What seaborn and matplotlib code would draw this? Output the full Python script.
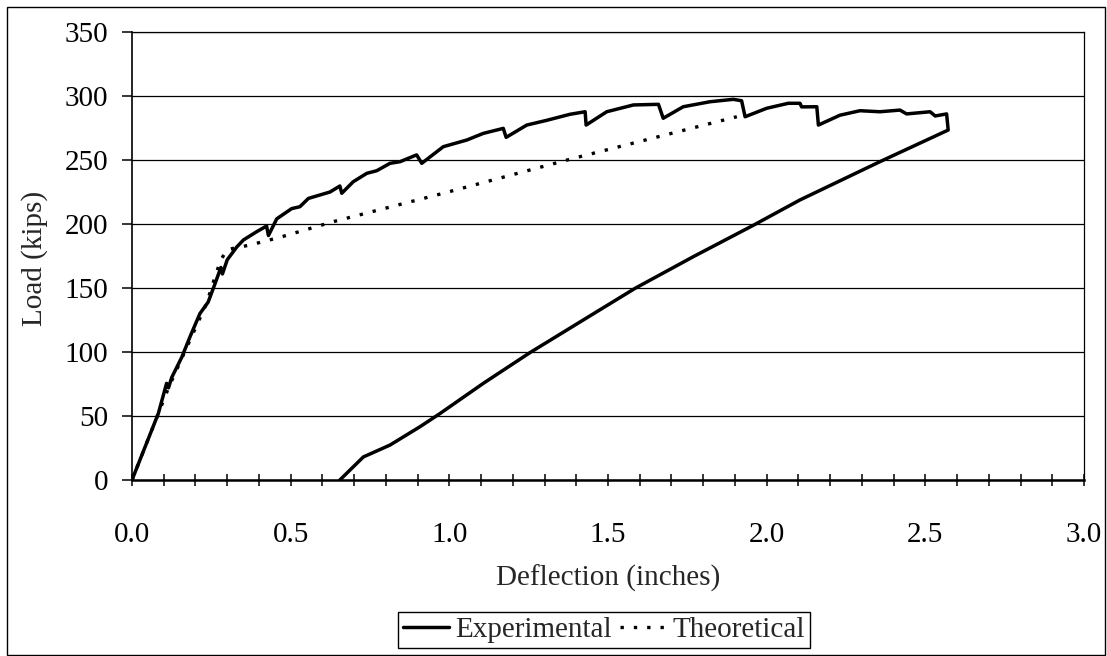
import numpy as np
import pandas as pd
import matplotlib
matplotlib.use("Agg")
import matplotlib.pyplot as plt
from matplotlib.patches import Rectangle
from matplotlib.ticker import MultipleLocator
import seaborn as sns

# Load-deflection data
exp_defl = [0.0, 0.083, 0.109, 0.115, 0.125, 0.157, 0.183, 0.214, 0.240, 0.262,
            0.280, 0.285, 0.300, 0.330, 0.351, 0.393, 0.424, 0.430, 0.456, 0.503,
            0.529, 0.556, 0.624, 0.655, 0.661, 0.697, 0.740, 0.771, 0.813, 0.845,
            0.897, 0.913, 0.981, 1.055, 1.107, 1.170, 1.179, 1.244, 1.307, 1.380,
            1.428, 1.431, 1.496, 1.580, 1.659, 1.674, 1.737, 1.821, 1.895, 1.921,
            1.932, 2.000, 2.068, 2.105, 2.110, 2.158, 2.163, 2.231, 2.294, 2.357,
            2.420, 2.441, 2.515, 2.531, 2.567, 2.572,
            2.357, 2.105, 1.958, 1.769, 1.585, 1.422, 1.254, 1.107, 0.971, 0.908,
            0.813, 0.729, 0.655]
exp_load = [0.0, 52.0, 75.5, 72.0, 80.0, 96.0, 112.0, 130.0, 139.0, 153.6,
            166.0, 161.0, 172.0, 182.0, 187.5, 194.0, 198.4, 191.0, 204.0, 212.0,
            213.5, 220.0, 225.0, 229.7, 224.0, 233.0, 239.6, 241.6, 247.4, 248.7,
            254.0, 247.4, 260.4, 265.6, 270.8, 274.7, 267.7, 277.3, 281.0, 285.7,
            287.7, 277.3, 287.7, 293.0, 293.5, 282.6, 291.6, 295.5, 297.4, 296.3,
            283.8, 290.4, 294.3, 294.3, 291.5, 291.6, 277.3, 285.0, 288.5, 287.7,
            289.0, 286.0, 287.7, 284.4, 286.0, 273.4,
            248.7, 218.8, 199.0, 174.5, 149.7, 125.0, 99.5, 75.5, 52.0, 41.7,
            27.3, 18.0, 0.0]

theo_defl = [0.0, 0.115, 0.235, 0.262, 0.280, 0.300, 0.372, 0.466, 0.634, 0.981, 1.391, 1.906]
theo_load = [0.0, 72.0, 138.0, 159.0, 172.0, 180.0, 183.6, 189.6, 201.8, 224.0, 251.3, 283.8]

exp_df = pd.DataFrame({"Deflection": exp_defl, "Load": exp_load})
theo_df = pd.DataFrame({"Deflection": theo_defl, "Load": theo_load})

sns.set_theme(style="white")
plt.rcParams["font.family"] = ["Liberation Serif", "DejaVu Serif"]

fig = plt.figure(figsize=(11.07, 6.56), dpi=100)
ax = fig.add_axes([132 / 1107, 1 - 480 / 656, 952 / 1107, 448 / 656])

sns.lineplot(data=exp_df, x="Deflection", y="Load", sort=False, estimator=None,
             color="black", linewidth=2.5, ax=ax, label="Experimental")
sns.lineplot(data=theo_df, x="Deflection", y="Load", sort=False, estimator=None,
             color="black", linewidth=2.4, linestyle=(0, (1, 3.0)), ax=ax,
             label="Theoretical")

ax.set_xlim(0, 3.0)
ax.set_ylim(0, 350)
ax.xaxis.set_major_locator(MultipleLocator(0.5))
ax.xaxis.set_minor_locator(MultipleLocator(0.1))
ax.yaxis.set_major_locator(MultipleLocator(50))
ax.xaxis.set_major_formatter(matplotlib.ticker.FormatStrFormatter("%.1f"))

ax.grid(axis="y", color="black", linewidth=0.9)
ax.set_axisbelow(True)
for s in ax.spines.values():
    s.set_color("black")
    s.set_linewidth(0.9)
ax.spines["left"].set_linewidth(1.2)
ax.spines["bottom"].set_linewidth(1.8)

ax.tick_params(axis="x", which="both", direction="inout", length=8, width=1.1,
               bottom=True, labelsize=21, pad=26, colors="black")
ax.tick_params(axis="y", direction="out", length=7, width=1.1, left=True,
               labelsize=21, pad=10, colors="black")

ax.set_xlabel("")
ax.set_ylabel("")
ax.get_legend().remove()

fig.text(608 / 1107, 1 - 578 / 656, "Deflection (inches)", ha="center", va="center",
         fontsize=21)
fig.text(35 / 1107, 1 - 258 / 656, "Load (kips)", ha="center", va="center",
         rotation=90, fontsize=21)

handles, labels = ax.get_lines()[:2], ["Experimental", "Theoretical"]
leg = fig.legend(handles, labels, loc="center", bbox_to_anchor=(604 / 1107, 1 - 630 / 656),
                 ncol=2, fontsize=21, frameon=True, fancybox=False, framealpha=1,
                 edgecolor="black", handlelength=1.6, handletextpad=0.2,
                 columnspacing=0.3, borderpad=0.15, borderaxespad=0)
leg.get_frame().set_linewidth(1.0)

# outer chart border
fig.patches.append(Rectangle((7 / 1107, 1 / 656), 1098 / 1107, 648 / 656,
                             transform=fig.transFigure, fill=False,
                             edgecolor="black", linewidth=1.0))

fig.savefig("out.png", dpi=100, facecolor="white")
